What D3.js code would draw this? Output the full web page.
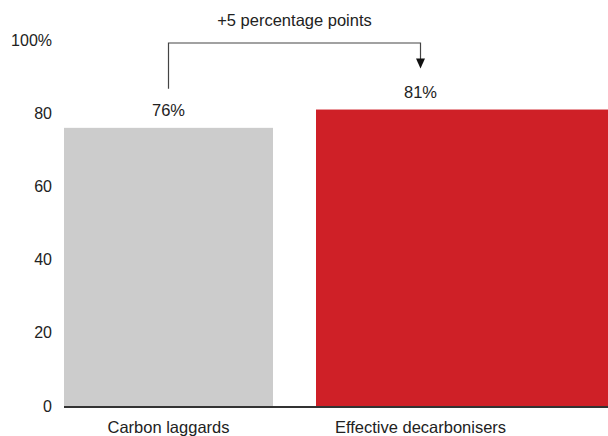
<!DOCTYPE html>
<html><head><meta charset="utf-8">
<script src="https://cdn.jsdelivr.net/npm/d3@7"></script>
<style>
html,body{margin:0;padding:0;background:#fff;}
svg{display:block;font-family:"Liberation Sans",Arial,Helvetica,sans-serif;}
</style></head><body>
<svg id="c" width="608" height="436"></svg>
<script>
const categories = ["Carbon laggards", "Effective decarbonisers"];
const values = [76, 81];
const valueLabels = ["76%", "81%"];
const colors = ["#cccccc", "#cf2027"];
const yTicks = [0, 20, 40, 60, 80, 100];
const annotation = "+5 percentage points";

const W = 608, H = 436;
const svg = d3.select("#c");
const x = d3.scaleBand().domain(categories).range([64, 525]).paddingInner(43/252).paddingOuter(0);
const y = d3.scaleLinear().domain([0, 100]).range([406, 40]);

// bars
svg.selectAll("rect.bar").data(values).join("rect")
  .attr("class", "bar")
  .attr("x", (d, i) => x(categories[i]))
  .attr("y", d => y(d))
  .attr("width", (d, i) => i === categories.length - 1 ? W - x(categories[i]) : x.bandwidth())
  .attr("height", d => y(0) - y(d))
  .attr("fill", (d, i) => colors[i]);

// y axis
const yAxis = d3.axisLeft(y).tickValues(yTicks).tickSize(0).tickPadding(0)
  .tickFormat(d => d === 100 ? "100%" : d);
const ga = svg.append("g").attr("transform", "translate(52,0)").call(yAxis);
ga.select(".domain").remove();
ga.selectAll("text").attr("font-size", 16).attr("fill", "#222")
  .attr("font-family", '"Liberation Sans",Arial,sans-serif');

// baseline
svg.append("line").attr("x1", 64).attr("x2", W).attr("y1", y(0) + 1).attr("y2", y(0) + 1)
  .attr("stroke", "#333").attr("stroke-width", 2);

// value labels
svg.selectAll("text.val").data(values).join("text")
  .attr("class", "val")
  .attr("x", (d, i) => x(categories[i]) + x.bandwidth() / 2)
  .attr("y", d => y(d) - 12)
  .attr("text-anchor", "middle").attr("font-size", 16.5).attr("fill", "#222")
  .text((d, i) => valueLabels[i]);

// category labels
svg.selectAll("text.cat").data(categories).join("text")
  .attr("class", "cat")
  .attr("x", d => x(d) + x.bandwidth() / 2)
  .attr("y", y(0) + 27)
  .attr("text-anchor", "middle").attr("font-size", 16.5).attr("fill", "#222")
  .text(d => d);

// bracket annotation
const x1 = x(categories[0]) + x.bandwidth() / 2;
const x2 = x(categories[1]) + x.bandwidth() / 2;
const yTop = y(100) + 3;
const yStart = y(values[0]) - 39;
const yTip = y(values[1]) - 41;
svg.append("path")
  .attr("d", `M${x1},${yStart}V${yTop}H${x2}V${yTip - 8}`)
  .attr("fill", "none").attr("stroke", "#444").attr("stroke-width", 1.2);
svg.append("path")
  .attr("d", `M${x2 - 4.5},${yTip - 10}L${x2 + 4.5},${yTip - 10}L${x2},${yTip}Z`)
  .attr("fill", "#111");
svg.append("text")
  .attr("x", (x1 + x2) / 2).attr("y", 26)
  .attr("text-anchor", "middle").attr("font-size", 16.5).attr("fill", "#222")
  .text(annotation);
</script>
</body></html>
